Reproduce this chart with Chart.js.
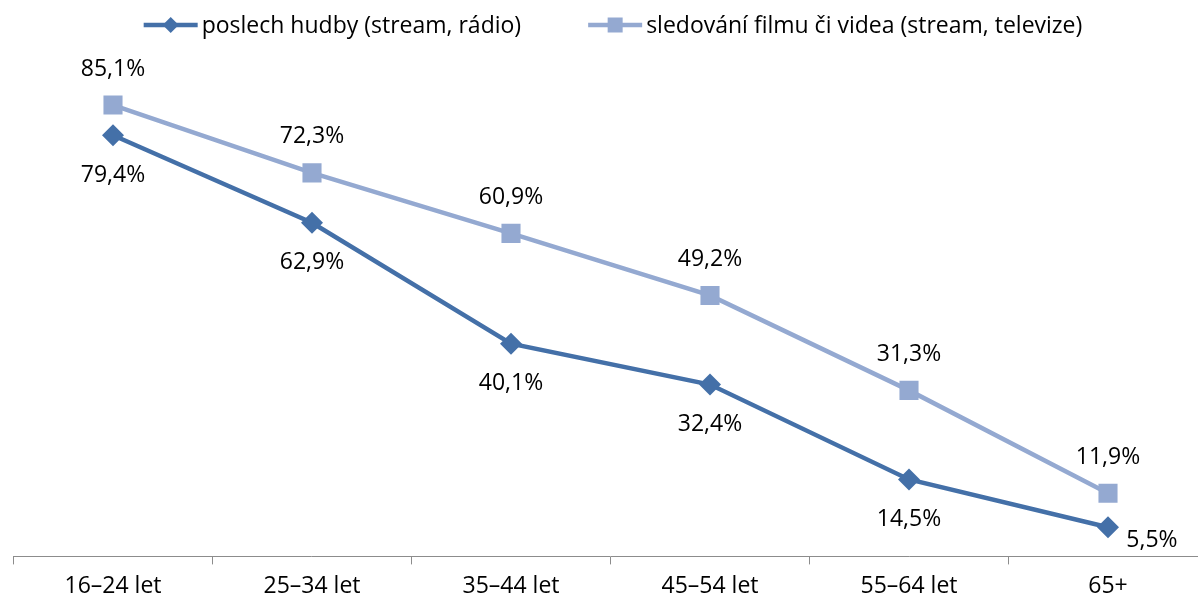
<!DOCTYPE html>
<html>
<head>
<meta charset="utf-8">
<script src="https://cdn.jsdelivr.net/npm/chart.js@4.4.1/dist/chart.umd.min.js"></script>
<style>
html,body{margin:0;padding:0;overflow:hidden;background:#fff;width:1198px;height:603px;}
#wrap{position:absolute;left:0;top:0;width:1221px;height:603px;}
</style>
</head>
<body>
<div id="wrap"><canvas id="c" width="1221" height="603"></canvas></div>
<script>
const categories = ["16–24 let", "25–34 let", "35–44 let", "45–54 let", "55–64 let", "65+"];
const musicValues = [79.4, 62.9, 40.1, 32.4, 14.5, 5.5];
const videoValues = [85.1, 72.3, 60.9, 49.2, 31.3, 11.9];
const seriesNames = ["poslech hudby (stream, rádio)", "sledování filmu či videa (stream, televize)"];

const DARK = "#4470A8";
const LIGHT = "#94A9D1";
const FONT = "'Open Sans', 'Liberation Sans', sans-serif";
const FSIZE = 23;

const fmt = v => v.toFixed(1).replace('.', ',') + '%';

const labelPlugin = {
  id: 'valueLabels',
  afterDatasetsDraw(chart) {
    const ctx = chart.ctx;
    ctx.save();
    ctx.font = FSIZE + 'px ' + FONT;
    ctx.fillStyle = '#000';
    ctx.textAlign = 'center';
    ctx.textBaseline = 'middle';
    chart.data.datasets.forEach((ds, di) => {
      const meta = chart.getDatasetMeta(di);
      meta.data.forEach((pt, i) => {
        const pos = ds.labelPos[i];
        let x = pt.x, y = pt.y;
        if (pos === 'above') y -= 36;
        else if (pos === 'below') y += 40;
        else if (pos === 'right') { x += 44; y += 13; }
        ctx.fillText(fmt(ds.data[i]), x, y);
      });
    });
    ctx.restore();
  }
};

const legendPlugin = {
  id: 'customLegend',
  afterDraw(chart) {
    const ctx = chart.ctx;
    ctx.save();
    ctx.font = FSIZE + 'px ' + FONT;
    ctx.textBaseline = 'middle';
    ctx.textAlign = 'left';
    const lineLen = 54, gap = 4, itemGap = 67;
    const items = chart.data.datasets.map(ds => ({ds, w: ctx.measureText(ds.label).width}));
    const total = items.reduce((s, it) => s + lineLen + gap + it.w, 0) + itemGap * (items.length - 1);
    let x = 613 - total / 2;
    const y = 25;
    items.forEach(it => {
      const ds = it.ds;
      ctx.strokeStyle = ds.borderColor;
      ctx.lineWidth = 4.5;
      ctx.beginPath();
      ctx.moveTo(x, y);
      ctx.lineTo(x + lineLen, y);
      ctx.stroke();
      ctx.fillStyle = ds.borderColor;
      ctx.beginPath();
      const cx = x + lineLen / 2;
      if (ds.pointStyle === 'rect') {
        ctx.rect(cx - 7.5, y - 7.5, 15, 15);
      } else {
        ctx.moveTo(cx, y - 8);
        ctx.lineTo(cx + 8, y);
        ctx.lineTo(cx, y + 8);
        ctx.lineTo(cx - 8, y);
        ctx.closePath();
      }
      ctx.fill();
      ctx.fillStyle = '#000';
      ctx.fillText(ds.label, x + lineLen + gap, y + 1);
      x += lineLen + gap + it.w + itemGap;
    });
    ctx.restore();
  }
};

new Chart(document.getElementById('c'), {
  type: 'line',
  data: {
    labels: categories,
    datasets: [
      {
        label: seriesNames[0],
        data: musicValues,
        borderColor: DARK,
        backgroundColor: DARK,
        borderWidth: 4.5,
        pointStyle: 'rectRot',
        pointRadius: 11,
        pointBorderWidth: 0,
        pointHoverRadius: 11,
        tension: 0,
        labelPos: ['below', 'below', 'below', 'below', 'below', 'right']
      },
      {
        label: seriesNames[1],
        data: videoValues,
        borderColor: LIGHT,
        backgroundColor: LIGHT,
        borderWidth: 4.5,
        pointStyle: 'rect',
        pointRadius: 13.5,
        pointBorderWidth: 0,
        pointHoverRadius: 13.5,
        tension: 0,
        labelPos: ['above', 'above', 'above', 'above', 'above', 'above']
      }
    ]
  },
  options: {
    responsive: false,
    devicePixelRatio: 1,
    animation: false,
    layout: { padding: { left: 12, right: 9, top: 26, bottom: -5 } },
    plugins: { legend: { display: false }, tooltip: { enabled: false } },
    scales: {
      x: {
        offset: true,
        grid: { display: true, offset: true, drawOnChartArea: false, drawTicks: true, tickLength: 8, color: '#8c8c8c', lineWidth: 1 },
        border: { display: true, color: '#8c8c8c', width: 1 },
        ticks: { color: '#000', font: { family: FONT, size: FSIZE }, padding: 8, maxRotation: 0 }
      },
      y: {
        display: false,
        min: 0,
        max: 100
      }
    }
  },
  plugins: [labelPlugin, legendPlugin]
});
</script>
</body>
</html>
